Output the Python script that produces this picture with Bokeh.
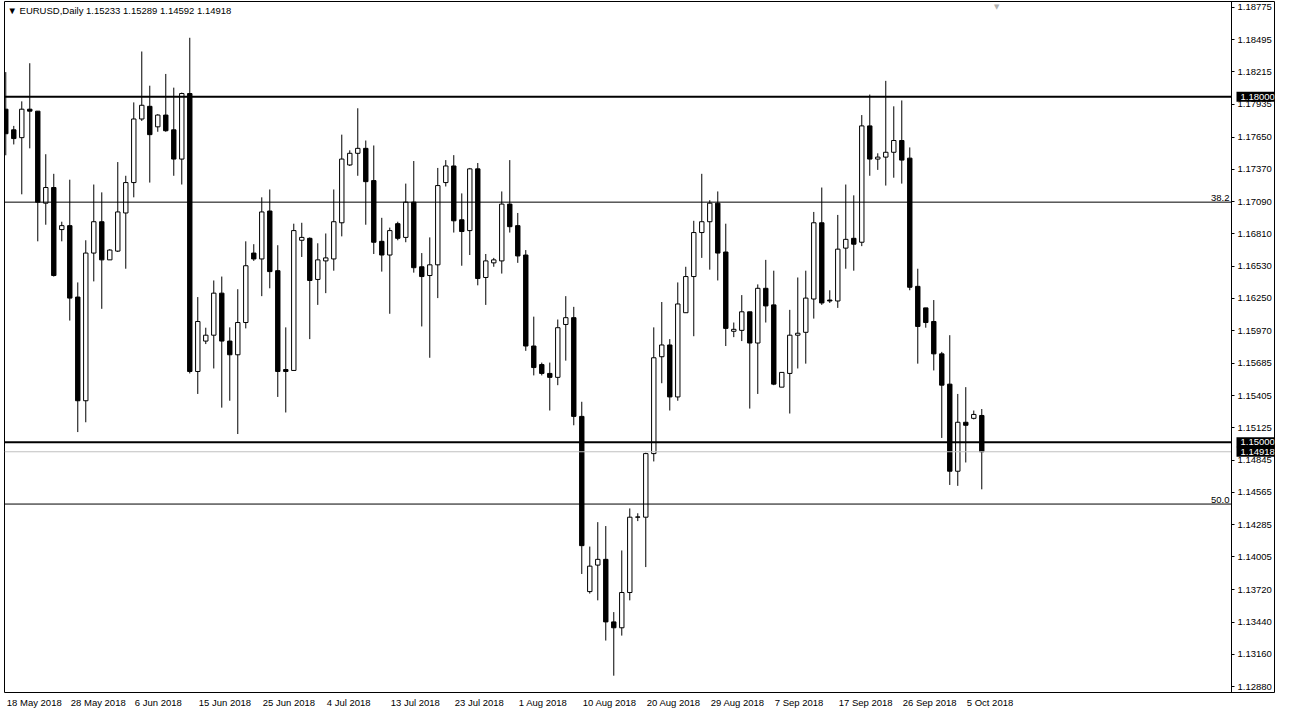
from bokeh.plotting import figure
from bokeh.models import Label, FixedTicker, PrintfTickFormatter, Range1d, ColumnDataSource
from bokeh.embed import file_html
from bokeh.resources import INLINE

# ---------------- data ----------------
header_text = "\u25BC EURUSD,Daily  1.15233 1.15289 1.14592 1.14918"

date_labels = ["18 May 2018", "28 May 2018", "6 Jun 2018", "15 Jun 2018", "25 Jun 2018",
               "4 Jul 2018", "13 Jul 2018", "23 Jul 2018", "1 Aug 2018", "10 Aug 2018",
               "20 Aug 2018", "29 Aug 2018", "7 Sep 2018", "17 Sep 2018", "26 Sep 2018",
               "5 Oct 2018"]
date_label_bars = [0, 8, 16, 24, 32, 40, 48, 56, 64, 72, 80, 88, 96, 104, 112, 120]

opens = [1.17892, 1.17713, 1.17645, 1.17892, 1.17875, 1.17076, 1.17212, 1.16847, 1.16881, 1.16261,
         1.15361, 1.16643, 1.16915, 1.16584, 1.16660, 1.16991, 1.17255, 1.17807, 1.17917, 1.17739,
         1.17841, 1.17713, 1.17459, 1.18028, 1.15615, 1.15879, 1.15930, 1.16295, 1.15879, 1.15760,
         1.16040, 1.16643, 1.16592, 1.17008, 1.16490, 1.15632, 1.15624, 1.16754, 1.16771, 1.16414,
         1.16575, 1.16592, 1.16906, 1.17408, 1.17509, 1.17552, 1.17272, 1.16745, 1.16626, 1.16898,
         1.16779, 1.17085, 1.16524, 1.16448, 1.16541, 1.17255, 1.17399, 1.16932, 1.16838, 1.17374,
         1.16431, 1.16558, 1.16575, 1.17068, 1.16881, 1.16626, 1.15836, 1.15675, 1.15598, 1.15564,
         1.16023, 1.16082, 1.15225, 1.13704, 1.13934, 1.13984, 1.13441, 1.13390, 1.13696, 1.14350,
         1.14350, 1.14902, 1.15743, 1.15845, 1.15394, 1.16125, 1.16439, 1.16821, 1.16915, 1.17076,
         1.16652, 1.15964, 1.15972, 1.16133, 1.15862, 1.16337, 1.16193, 1.15479, 1.15598, 1.15930,
         1.15955, 1.16244, 1.16906, 1.16235, 1.16227, 1.16686, 1.16771, 1.16737, 1.17747, 1.17459,
         1.17476, 1.17518, 1.17620, 1.17467, 1.16354, 1.16167, 1.16049, 1.15768, 1.15505, 1.14749,
         1.15174, 1.15208, 1.15233]
highs = [1.18214, 1.17747, 1.17960, 1.18291, 1.17875, 1.17501, 1.17331, 1.16915, 1.17280, 1.16388,
         1.16754, 1.17238, 1.17170, 1.16677, 1.17433, 1.17314, 1.17951, 1.18393, 1.18096, 1.17849,
         1.18198, 1.18079, 1.18036, 1.18512, 1.16261, 1.15995, 1.16405, 1.16439, 1.15998, 1.16329,
         1.16745, 1.16720, 1.17127, 1.17195, 1.16711, 1.15998, 1.16898, 1.16906, 1.16779, 1.16728,
         1.16813, 1.17195, 1.17671, 1.17535, 1.17900, 1.17620, 1.17577, 1.16949, 1.16864, 1.16915,
         1.17246, 1.17442, 1.16643, 1.16779, 1.17382, 1.17450, 1.17493, 1.17161, 1.17382, 1.17425,
         1.16635, 1.16601, 1.17178, 1.17450, 1.16991, 1.16669, 1.16091, 1.15692, 1.15692, 1.16066,
         1.16269, 1.16176, 1.15352, 1.14095, 1.14307, 1.14273, 1.13526, 1.14061, 1.14426, 1.14384,
         1.14910, 1.15998, 1.16218, 1.15896, 1.16388, 1.16524, 1.16923, 1.17331, 1.17102, 1.17178,
         1.16898, 1.16040, 1.16278, 1.16133, 1.16371, 1.16584, 1.16490, 1.15607, 1.16150, 1.16431,
         1.16490, 1.17000, 1.17212, 1.16320, 1.16974, 1.17238, 1.17144, 1.17841, 1.18019, 1.17509,
         1.18138, 1.17917, 1.17968, 1.17560, 1.16507, 1.16167, 1.16235, 1.15785, 1.15930, 1.15420,
         1.15479, 1.15276, 1.15289]
lows = [1.17492, 1.17586, 1.17153, 1.17552, 1.16745, 1.16889, 1.16439, 1.16745, 1.16057, 1.15089,
        1.15174, 1.16397, 1.16159, 1.16584, 1.16652, 1.16507, 1.17127, 1.17790, 1.17255, 1.17696,
        1.17696, 1.17314, 1.17238, 1.15598, 1.15420, 1.15853, 1.15641, 1.15301, 1.15361, 1.15072,
        1.15989, 1.16575, 1.16269, 1.16337, 1.15394, 1.15259, 1.15624, 1.16609, 1.15896, 1.16193,
        1.16295, 1.16490, 1.16788, 1.17399, 1.17314, 1.16889, 1.16635, 1.16482, 1.16116, 1.16754,
        1.16737, 1.16473, 1.16006, 1.15734, 1.16252, 1.17221, 1.16821, 1.16533, 1.16626, 1.16363,
        1.16193, 1.16524, 1.16465, 1.16821, 1.16558, 1.15794, 1.15581, 1.15581, 1.15276, 1.15496,
        1.15709, 1.15148, 1.13857, 1.13687, 1.13628, 1.13279, 1.12974, 1.13322, 1.13628, 1.14316,
        1.13917, 1.14834, 1.15513, 1.15276, 1.15361, 1.16125, 1.15921, 1.16601, 1.16499, 1.16405,
        1.15836, 1.15913, 1.15879, 1.15293, 1.15420, 1.16040, 1.15496, 1.15479, 1.15250, 1.15641,
        1.15683, 1.16074, 1.16193, 1.16210, 1.16167, 1.16507, 1.16490, 1.16703, 1.17314, 1.17365,
        1.17229, 1.17297, 1.17246, 1.16320, 1.15683, 1.15995, 1.15624, 1.15038, 1.14630, 1.14622,
        1.14825, 1.15199, 1.14592]
closes = [1.17679, 1.17637, 1.17892, 1.17875, 1.17085, 1.17212, 1.16448, 1.16881, 1.16252, 1.15361,
          1.16643, 1.16915, 1.16584, 1.16669, 1.17000, 1.17255, 1.17807, 1.17926, 1.17671, 1.17841,
          1.17705, 1.17459, 1.18028, 1.15615, 1.16049, 1.15930, 1.16295, 1.15879, 1.15760, 1.16040,
          1.16533, 1.16592, 1.17000, 1.16482, 1.15615, 1.15615, 1.16838, 1.16779, 1.16405, 1.16584,
          1.16601, 1.16915, 1.17459, 1.17509, 1.17552, 1.17263, 1.16737, 1.16626, 1.16838, 1.16771,
          1.17085, 1.16516, 1.16439, 1.16541, 1.17229, 1.17399, 1.16923, 1.16830, 1.17374, 1.16422,
          1.16575, 1.16584, 1.17068, 1.16872, 1.16618, 1.15836, 1.15649, 1.15598, 1.15564, 1.15995,
          1.16082, 1.15225, 1.14103, 1.13925, 1.13984, 1.13441, 1.13390, 1.13696, 1.14350, 1.14352,
          1.14902, 1.15734, 1.15845, 1.15394, 1.16201, 1.16439, 1.16821, 1.16915, 1.17076, 1.16643,
          1.15989, 1.15981, 1.16133, 1.15862, 1.16337, 1.16184, 1.15505, 1.15607, 1.15930, 1.15947,
          1.16252, 1.16906, 1.16210, 1.16227, 1.16677, 1.16762, 1.16720, 1.17747, 1.17459, 1.17476,
          1.17518, 1.17620, 1.17450, 1.16346, 1.16006, 1.16040, 1.15768, 1.15496, 1.14749, 1.15174,
          1.15148, 1.15242, 1.14918]

price_ticks = [1.18775, 1.18495, 1.18215, 1.17935, 1.17650, 1.17370, 1.17090, 1.16810, 1.16530,
               1.16250, 1.15970, 1.15685, 1.15405, 1.15125, 1.14845, 1.14565, 1.14285, 1.14005,
               1.13720, 1.13440, 1.13160, 1.12880]

level_top = 1.18000
level_bottom = 1.15000
fib_levels = [1.17085, 1.14464]
fib_names = ["38.2", "50.0"]
bid_price = 1.14918
price_boxes = [1.18000, 1.15000, 1.14918]

# ---------------- layout ----------------
W, H = 1275, 710
MB_L, MB_T, MB_R, MB_B = 4, 1, 1, 16
FRAME_W = W - MB_L - MB_R
FRAME_H = H - MB_T - MB_B
SCALE_W = 43                      # width of the price-scale strip at the right
BAR_PX = 8                        # pixels per bar, as in the reference
X_START = -0.16
AXIS_X = X_START + (FRAME_W - SCALE_W) / BAR_PX
X_END = X_START + FRAME_W / BAR_PX
# keep the outer price labels fully inside the frame (6 px of room)
EDGE_PX = 6
span = (max(price_ticks) - min(price_ticks)) * FRAME_H / (FRAME_H - 2 * EDGE_PX)
Y_END = max(price_ticks) + span * EDGE_PX / FRAME_H
Y_START = Y_END - span
FONT = "Liberation Sans"
FS_PX = 9.5
FS = f"{FS_PX}px"

# approximate Liberation Sans advance widths (per em) to left-align date labels
CHAR_W = {" ": 0.278, "M": 0.833, "J": 0.5, "A": 0.667, "S": 0.667, "O": 0.778,
          "a": 0.556, "y": 0.5, "u": 0.556, "n": 0.556, "l": 0.222, "g": 0.556,
          "e": 0.556, "p": 0.556, "c": 0.5, "t": 0.278}


def text_width(s):
    return sum(CHAR_W.get(ch, 0.556) for ch in s) * FS_PX


date_ticks = [round(b + (text_width(t) / 2 + 1) / BAR_PX, 3)
              for b, t in zip(date_label_bars, date_labels)]

n = len(opens)
idx = list(range(n))
bull = [c >= o for o, c in zip(opens, closes)]
src = ColumnDataSource(dict(
    x=idx, high=highs, low=lows,
    top=[max(o, c) for o, c in zip(opens, closes)],
    bottom=[min(o, c) for o, c in zip(opens, closes)],
    fill=["white" if b else "black" for b in bull],
))

p = figure(width=W, height=H, output_backend="svg", toolbar_location=None,
           x_range=Range1d(X_START, X_END), y_range=Range1d(Y_START, Y_END),
           x_axis_location="below", y_axis_location="right",
           min_border_left=MB_L, min_border_top=MB_T, min_border_right=MB_R,
           min_border_bottom=MB_B)
p.grid.visible = False
p.outline_line_color = "black"
p.outline_line_width = 1
p.background_fill_color = "white"
p.border_fill_color = "white"

# price scale: real axis fixed at the scale line, labels to its right
ax = p.yaxis[0]
ax.fixed_location = AXIS_X
ax.ticker = FixedTicker(ticks=price_ticks)
ax.formatter = PrintfTickFormatter(format="%.5f")
ax.major_tick_out = 3
ax.major_tick_in = 0
ax.minor_tick_out = 0
ax.minor_tick_in = 0
ax.major_label_standoff = 3
ax.major_label_text_font = FONT
ax.major_label_text_font_size = FS
ax.major_label_text_color = "black"
ax.axis_line_color = "black"
ax.major_tick_line_color = "black"

# time scale (below); labels start at their bar
xa = p.xaxis[0]
xa.ticker = FixedTicker(ticks=date_ticks)
xa.major_label_overrides = {tk: lb for tk, lb in zip(date_ticks, date_labels)}
xa.major_tick_out = 0
xa.major_tick_in = 0
xa.minor_tick_out = 0
xa.minor_tick_in = 0
xa.axis_line_color = None
xa.major_label_standoff = 4
xa.major_label_text_font = FONT
xa.major_label_text_font_size = FS
xa.major_label_text_color = "black"

# candles
p.segment(x0="x", y0="low", x1="x", y1="high", source=src, line_color="black", line_width=1)
p.vbar(x="x", width=0.55, top="top", bottom="bottom", source=src,
       fill_color="fill", line_color="black", line_width=1)

# horizontal levels, drawn up to the price scale
p.segment(x0=X_START, x1=AXIS_X, y0=bid_price, y1=bid_price, line_color="#c0c0c0", line_width=1)
for lv in fib_levels:
    p.segment(x0=X_START, x1=AXIS_X, y0=lv, y1=lv, line_color="black", line_width=1)
for lv in (level_top, level_bottom):
    p.segment(x0=X_START, x1=AXIS_X, y0=lv, y1=lv, line_color="black", line_width=2)

for lv, nm in zip(fib_levels, fib_names):
    p.add_layout(Label(x=AXIS_X, y=lv, text=nm, x_offset=-2, y_offset=1,
                       text_align="right", text_baseline="bottom",
                       text_font=FONT, text_font_size=FS, text_color="black"))

# highlighted prices on the scale (white on black)
for pb in price_boxes:
    common = dict(x=AXIS_X, y=pb, text=f"{pb:.5f}", x_offset=5,
                  text_align="left", text_baseline="middle",
                  text_font=FONT, text_font_size=FS, text_color="white",
                  background_fill_color="black")
    try:
        lab = Label(padding=dict(left=4, right=4, top=2, bottom=2), **common)
    except Exception:
        lab = Label(padding=2, **common)
    p.add_layout(lab)

# header
p.add_layout(Label(x=3, y=FRAME_H - 11, x_units="screen", y_units="screen", text=header_text,
                   text_align="left", text_baseline="middle",
                   text_font=FONT, text_font_size=FS, text_color="black"))

# chart-shift marker
p.add_layout(Label(x=n - 1 + 1.85, y=FRAME_H - 7, y_units="screen", text="\u25BC",
                   text_align="center", text_baseline="middle",
                   text_font="DejaVu Sans", text_font_size="7px", text_color="#b0b0b0"))

open("out.html", "w").write(file_html(p, INLINE))
